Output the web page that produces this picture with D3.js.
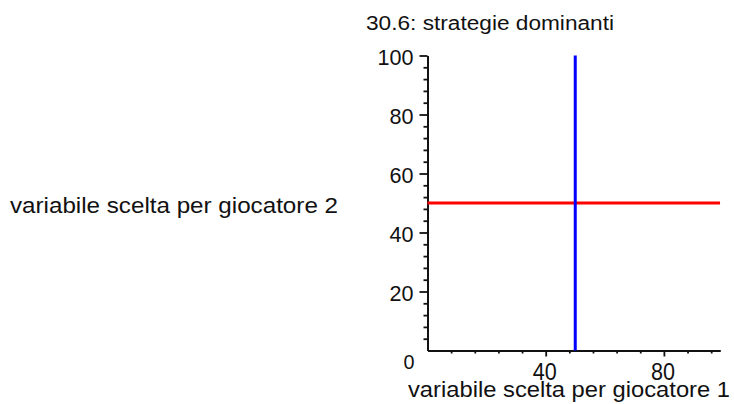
<!DOCTYPE html>
<html>
<head>
<meta charset="utf-8">
<script src="https://cdn.jsdelivr.net/npm/d3@7"></script>
<style>
    body { margin: 0; background: #fff; }
    svg text { font-family: "Liberation Sans", Arial, sans-serif; fill: #111; }
</style>
</head>
<body>
<div id="chart"></div>
<script>
// strategie dominanti: each player's best choice does not depend on the other
const title = "30.6: strategie dominanti"
const xLabel = "variabile scelta per giocatore 1"
const yLabel = "variabile scelta per giocatore 2"

const xExtent = [0, 99]
const yExtent = [0, 100]
const xTicks = [40, 80]
const yTicks = [20, 40, 60, 80, 100]
const xMinorTicks = [8, 16, 24, 32, 48, 56, 64, 72, 88, 96]
const yMinorTicks = [4, 8, 12, 16, 24, 28, 32, 36, 44, 48, 52, 56, 64, 68, 72, 76, 84, 88, 92, 96]

// best reply of player 1 (vertical) and player 2 (horizontal)
const player1Line = [{x: 50, y: 0}, {x: 50, y: 100}]
const player2Line = [{x: 0, y: 50}, {x: 99, y: 50}]

const width = 734, height = 404

const svg = d3.select("#chart").append("svg")
    .attr("width", width)
    .attr("height", height)

const x = d3.scaleLinear().domain(xExtent).range([427.5, 427.5 + 99 * 2.955])
const y = d3.scaleLinear().domain(yExtent).range([350.5, 55.5])

const line = d3.line().x(d => x(d.x)).y(d => y(d.y))

// minor ticks first, then the axes with labels
svg.append("g")
    .attr("class", "x-minor")
    .attr("transform", `translate(0,${y(0)})`)
    .call(d3.axisBottom(x).tickValues(xMinorTicks).tickSize(3).tickSizeOuter(0).tickFormat(""))

svg.append("g")
    .attr("class", "y-minor")
    .attr("transform", `translate(${x(0)},0)`)
    .call(d3.axisLeft(y).tickValues(yMinorTicks).tickSize(4).tickSizeOuter(0).tickFormat(""))

const xAxis = svg.append("g")
    .attr("class", "x-axis")
    .attr("transform", `translate(0,${y(0)})`)
    .call(d3.axisBottom(x).tickValues(xTicks).tickSize(6).tickSizeOuter(0).tickPadding(0))

xAxis.selectAll("text")
    .attr("font-size", 24)
    .attr("y", 29)
    .attr("dy", 0)
    .attr("dx", -1.5)
    .attr("textLength", 24)
    .attr("lengthAdjust", "spacingAndGlyphs")

const yAxis = svg.append("g")
    .attr("class", "y-axis")
    .attr("transform", `translate(${x(0)},0)`)
    .call(d3.axisLeft(y).tickValues(yTicks).tickSize(8).tickSizeOuter(0).tickPadding(0))

yAxis.selectAll("text")
    .attr("font-size", 22)
    .attr("x", -14)
    .attr("dy", 0)
    .attr("y", 8.5)
    .attr("textLength", d => d === 100 ? 36 : 24)
    .attr("lengthAdjust", "spacingAndGlyphs")

svg.selectAll(".domain, .tick line")
    .attr("stroke", "#111")
    .attr("stroke-width", 1.8)

// shared origin label
svg.append("text")
    .attr("x", x(0) - 24)
    .attr("y", 369)
    .attr("font-size", 20)
    .attr("textLength", 11)
    .attr("lengthAdjust", "spacingAndGlyphs")
    .text("0")

svg.append("path")
    .datum(player2Line)
    .attr("fill", "none")
    .attr("stroke", "#ff0000")
    .attr("stroke-width", 3)
    .attr("d", line)

svg.append("path")
    .datum(player1Line)
    .attr("fill", "none")
    .attr("stroke", "#0000ff")
    .attr("stroke-width", 3)
    .attr("d", line)

svg.append("text")
    .attr("x", 366)
    .attr("y", 30)
    .attr("font-size", 20)
    .attr("textLength", 248)
    .attr("lengthAdjust", "spacingAndGlyphs")
    .text(title)

svg.append("text")
    .attr("x", 10)
    .attr("y", 213)
    .attr("font-size", 22)
    .attr("textLength", 328)
    .attr("lengthAdjust", "spacingAndGlyphs")
    .text(yLabel)

svg.append("text")
    .attr("x", 408)
    .attr("y", 397)
    .attr("font-size", 22)
    .attr("textLength", 322)
    .attr("lengthAdjust", "spacingAndGlyphs")
    .text(xLabel)
</script>
</body>
</html>
